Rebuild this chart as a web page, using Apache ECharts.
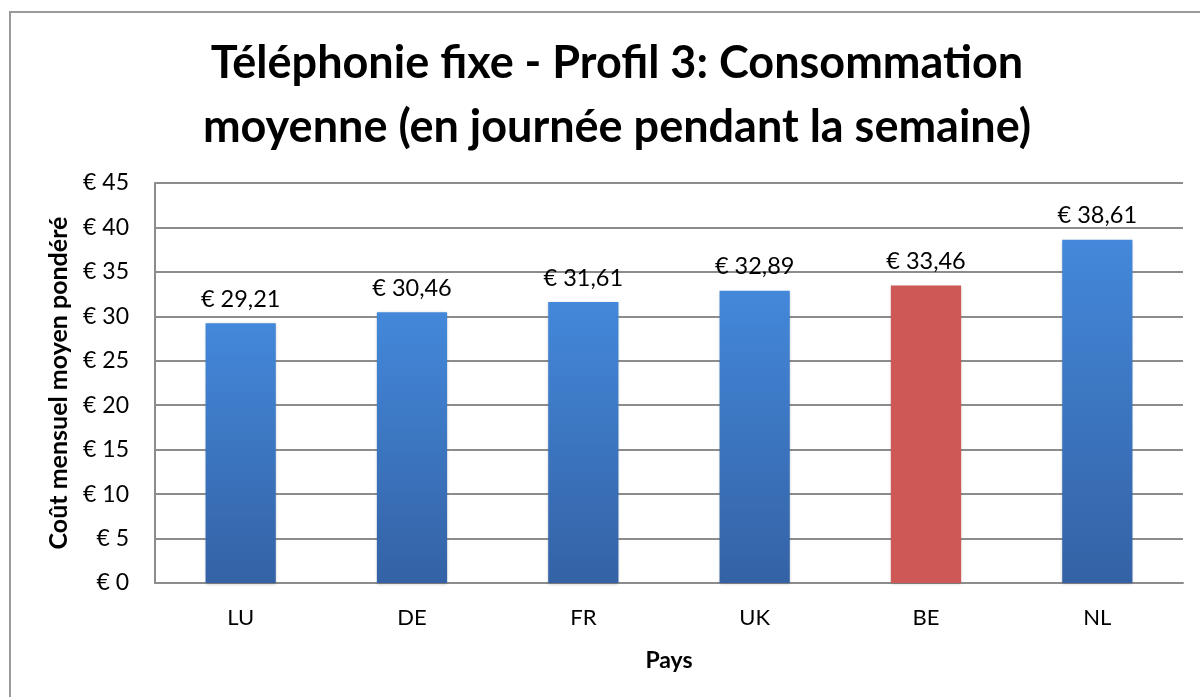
<!DOCTYPE html>
<html>
<head>
<meta charset="utf-8">
<script src="https://cdn.jsdelivr.net/npm/echarts@6/dist/echarts.min.js"></script>
<style>
  html, body { margin: 0; padding: 0; background: #fff; }
  #chart { width: 1200px; height: 697px; }
  #frame { position: absolute; left: 9px; top: 11px; width: 1300px; height: 800px; border: 2px solid #9a9a9a; box-sizing: border-box; pointer-events: none; }
</style>
</head>
<body>
<div id="chart"></div>
<div id="frame"></div>
<script>
const categories = ["LU", "DE", "FR", "UK", "BE", "NL"];
const values = [29.21, 30.46, 31.61, 32.89, 33.46, 38.61];
const highlight = "BE";
const titleLines = ["Téléphonie fixe - Profil 3: Consommation", "moyenne (en journée pendant la semaine)"];

const fontFamily = "Lato, 'Open Sans', sans-serif";
const chart = echarts.init(document.getElementById("chart"));

const blueGradient = new echarts.graphic.LinearGradient(0, 0, 0, 1, [
  { offset: 0, color: "#4388da" },
  { offset: 1, color: "#3462a5" }
]);

function euro(v) {
  return "€ " + String(v).replace(".", ",");
}

const option = {
  animation: false,
  title: {
    text: titleLines.join("\n"),
    left: 612,
    top: 26,
    textAlign: "center",
    textStyle: {
      fontFamily: fontFamily,
      fontSize: 45,
      fontWeight: "bold",
      color: "#000",
      lineHeight: 64
    }
  },
  grid: {
    left: 155,
    right: 17,
    top: 183,
    bottom: 114
  },
  xAxis: {
    type: "category",
    data: categories,
    name: "Pays",
    nameLocation: "middle",
    nameGap: 66,
    nameTextStyle: { fontFamily: fontFamily, fontSize: 23, fontWeight: "bold", color: "#000" },
    axisLine: { lineStyle: { color: "#8c8c8c", width: 2 } },
    axisTick: { show: false },
    axisLabel: { fontFamily: fontFamily, fontSize: 22, color: "#000", margin: 24 }
  },
  yAxis: {
    type: "value",
    min: 0,
    max: 45,
    interval: 5,
    name: "Coût mensuel moyen pondéré",
    nameLocation: "middle",
    nameGap: 84,
    nameTextStyle: { fontFamily: fontFamily, fontSize: 25, fontWeight: "bold", color: "#000" },
    axisLine: { show: true, lineStyle: { color: "#8c8c8c", width: 2 } },
    axisTick: { show: false },
    splitLine: { lineStyle: { color: "#8c8c8c", width: 2 } },
    axisLabel: {
      fontFamily: fontFamily,
      fontSize: 23,
      color: "#000",
      margin: 26,
      formatter: function (v) { return euro(v); }
    }
  },
  series: [{
    type: "bar",
    barWidth: "41%",
    data: categories.map(function (c, i) {
      return {
        value: values[i],
        itemStyle: { color: c === highlight ? "#cd5855" : blueGradient }
      };
    }),
    itemStyle: {
      shadowColor: "rgba(0,0,0,0.25)",
      shadowBlur: 3,
      shadowOffsetY: 1
    },
    label: {
      show: true,
      position: "top",
      distance: 12,
      fontFamily: fontFamily,
      fontSize: 23.5,
      color: "#000",
      formatter: function (p) { return euro(p.value); }
    }
  }]
};

chart.setOption(option);
</script>
</body>
</html>
